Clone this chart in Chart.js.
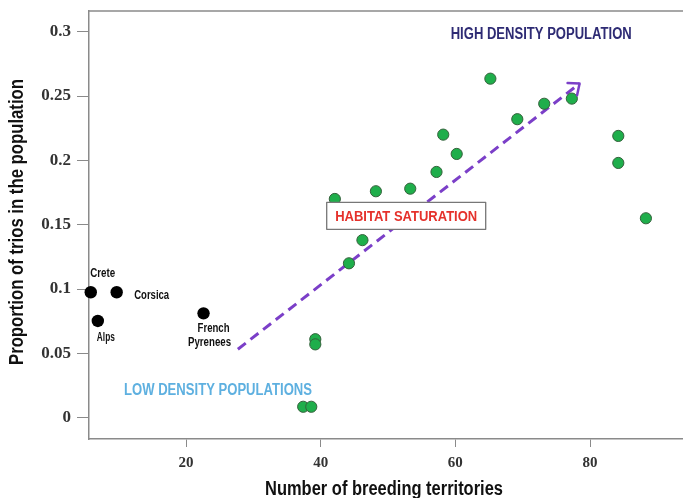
<!DOCTYPE html>
<html>
<head>
<meta charset="utf-8">
<script src="https://cdn.jsdelivr.net/npm/chart.js@4.4.1/dist/chart.umd.min.js"></script>
<style>
  html, body { margin: 0; padding: 0; background: #fff; }
  #wrap { width: 683px; height: 498px; }
</style>
</head>
<body>
<div id="wrap"><canvas id="c" width="683" height="498"></canvas></div>
<script>
// Breeding territories vs. proportion of trios

// populations in the saturated range (green)
const saturatedX = [37.4, 38.6, 39.2, 39.2, 42.1, 44.2, 46.2, 48.2, 53.3, 57.2, 58.2, 60.2, 65.2, 69.2, 73.2, 77.3, 84.2, 84.2, 88.3];
const saturatedY = [0.0085, 0.0085, 0.061, 0.057, 0.170, 0.120, 0.138, 0.176, 0.178, 0.191, 0.220, 0.205, 0.2635, 0.232, 0.244, 0.248, 0.219, 0.198, 0.155];

// named low-density populations (black)
const regionNames = ['Crete', 'Corsica', 'Alps', 'French\nPyrenees'];
const regionX = [5.85, 9.7, 6.9, 22.6];
const regionY = [0.0975, 0.0975, 0.0752, 0.0811];

// trend arrow (start, tip)
const trendX = [27.7, 78.45];
const trendY = [0.0532, 0.2597];

const xTicks = [20, 40, 60, 80];
const yTicks = [0, 0.05, 0.1, 0.15, 0.2, 0.25, 0.3];

const xTitle = 'Number of breeding territories';
const yTitle = 'Proportion of trios in the population';
const noteHigh = 'HIGH DENSITY POPULATION';
const noteSaturation = 'HABITAT SATURATION';
const noteLow = 'LOW DENSITY POPULATIONS';

const PURPLE = '#7b3fc8';
const AXIS = '#8a8a8a';
const NARROW = "'Liberation Sans Narrow', 'Arial Narrow', 'Liberation Sans', sans-serif";
const SERIF = "'Liberation Serif', 'Times New Roman', serif";

const toPoints = (xs, ys) => xs.map((v, i) => ({ x: v, y: ys[i] }));

// Draw a single text line squeezed to a given width, centred on (cx, cy)
function fitText(ctx, text, cx, cy, size, color, width, rotate) {
  ctx.save();
  ctx.font = 'bold ' + size + 'px ' + NARROW;
  const w = ctx.measureText(text).width;
  ctx.translate(cx, cy);
  if (rotate) ctx.rotate(rotate);
  if (width) ctx.scale(width / w, 1);
  ctx.fillStyle = color;
  ctx.textAlign = 'center';
  ctx.textBaseline = 'middle';
  ctx.fillText(text, 0, 0);
  ctx.restore();
}

const decor = {
  id: 'decor',
  afterDatasetsDraw(chart) {
    const { ctx, chartArea: a, scales: { x, y } } = chart;
    ctx.save();

    // top frame line
    ctx.strokeStyle = AXIS;
    ctx.lineWidth = 1.5;
    ctx.beginPath();
    ctx.moveTo(a.left, a.top);
    ctx.lineTo(a.right, a.top);
    ctx.stroke();

    // open arrowhead at the end of the trend line
    const x0 = x.getPixelForValue(trendX[0]), y0 = y.getPixelForValue(trendY[0]);
    const x1 = x.getPixelForValue(trendX[1]), y1 = y.getPixelForValue(trendY[1]);
    const ang = Math.atan2(y1 - y0, x1 - x0);
    const len = 12, spread = 0.7;
    ctx.strokeStyle = PURPLE;
    ctx.lineWidth = 2.5;
    ctx.lineCap = 'round';
    ctx.lineJoin = 'round';
    ctx.setLineDash([]);
    ctx.beginPath();
    ctx.moveTo(x1 - len * Math.cos(ang - spread), y1 - len * Math.sin(ang - spread));
    ctx.lineTo(x1, y1);
    ctx.lineTo(x1 - len * Math.cos(ang + spread), y1 - len * Math.sin(ang + spread));
    ctx.stroke();

    // region labels
    const labelOffsets = [[12, -19], [35, 3], [8, 17], [10, 15]];
    const labelWidths = [25, 35, 18, null];
    regionNames.forEach((name, i) => {
      const px = x.getPixelForValue(regionX[i]) + labelOffsets[i][0];
      const py = y.getPixelForValue(regionY[i]) + labelOffsets[i][1];
      const lines = name.split('\n');
      if (lines.length === 1) {
        fitText(ctx, lines[0], px, py, 12, '#111', labelWidths[i]);
      } else {
        fitText(ctx, lines[0], px, py, 12, '#111', 32);
        fitText(ctx, lines[1], px - 4, py + 14, 12, '#111', 43);
      }
    });

    // annotations
    fitText(ctx, noteHigh, x.getPixelForValue(72.75), y.getPixelForValue(0.2974), 16, '#2e2b74', 181);
    fitText(ctx, noteLow, x.getPixelForValue(24.75), y.getPixelForValue(0.0208), 16, '#5eb0e0', 188);

    const bx = x.getPixelForValue(52.7), by = y.getPixelForValue(0.1569);
    ctx.fillStyle = '#fff';
    ctx.fillRect(bx - 79.5, by - 13.5, 159, 27);
    ctx.strokeStyle = '#777';
    ctx.lineWidth = 1.3;
    ctx.strokeRect(bx - 79.5, by - 13.5, 159, 27);
    fitText(ctx, noteSaturation, bx, by + 0.5, 15.5, '#e5312b', 142);

    // axis titles
    fitText(ctx, xTitle, (a.left + a.right) / 2 - 2, a.bottom + 50, 20, '#111', 238);
    fitText(ctx, yTitle, 17, (a.top + a.bottom) / 2 - 3, 20, '#111', 286, -Math.PI / 2);

    ctx.restore();
  }
};

new Chart(document.getElementById('c'), {
  type: 'scatter',
  data: {
    datasets: [
      {
        type: 'line',
        data: toPoints(trendX, trendY),
        borderColor: PURPLE,
        borderWidth: 3,
        borderDash: [10, 6],
        pointRadius: 0,
        fill: false,
        order: 3,
        clip: false
      },
      {
        data: toPoints(saturatedX, saturatedY),
        backgroundColor: '#1fae4b',
        borderColor: '#35613c',
        borderWidth: 1,
        pointRadius: 5.6,
        order: 2,
        clip: false
      },
      {
        data: toPoints(regionX, regionY),
        backgroundColor: '#000',
        borderColor: '#000',
        borderWidth: 0,
        pointRadius: 6.2,
        order: 1,
        clip: false
      }
    ]
  },
  options: {
    responsive: false,
    animation: false,
    devicePixelRatio: 1,
    layout: { autoPadding: false, padding: { top: 11, left: 0, right: 0, bottom: 0 } },
    plugins: { legend: { display: false }, tooltip: { enabled: false } },
    scales: {
      x: {
        type: 'linear',
        position: 'bottom',
        min: 5.59,
        max: 93.81,
        afterFit(s) { s.height = 59; s.paddingLeft = 0; s.paddingRight = 0; },
        afterBuildTicks(s) { s.ticks = xTicks.map(v => ({ value: v })); },
        grid: { drawOnChartArea: false, drawTicks: true, tickLength: 8, color: AXIS, lineWidth: 1 },
        border: { display: true, color: AXIS, width: 1.5 },
        ticks: {
          font: { family: SERIF, size: 15, weight: 'bold' },
          color: '#333',
          padding: 7,
          maxRotation: 0
        },
        title: { display: false }
      },
      y: {
        type: 'linear',
        position: 'left',
        min: -0.01655,
        max: 0.31609,
        afterFit(s) { s.width = 89; s.paddingTop = 0; s.paddingBottom = 0; },
        afterBuildTicks(s) { s.ticks = yTicks.map(v => ({ value: v })); },
        grid: { drawOnChartArea: false, drawTicks: true, tickLength: 12, color: AXIS, lineWidth: 1 },
        border: { display: true, color: AXIS, width: 1.5 },
        ticks: {
          font: { family: SERIF, size: 17, weight: 'bold' },
          color: '#333',
          padding: 6,
          callback: v => String(+Number(v).toFixed(2))
        },
        title: { display: false }
      }
    }
  },
  plugins: [decor]
});
</script>
</body>
</html>
